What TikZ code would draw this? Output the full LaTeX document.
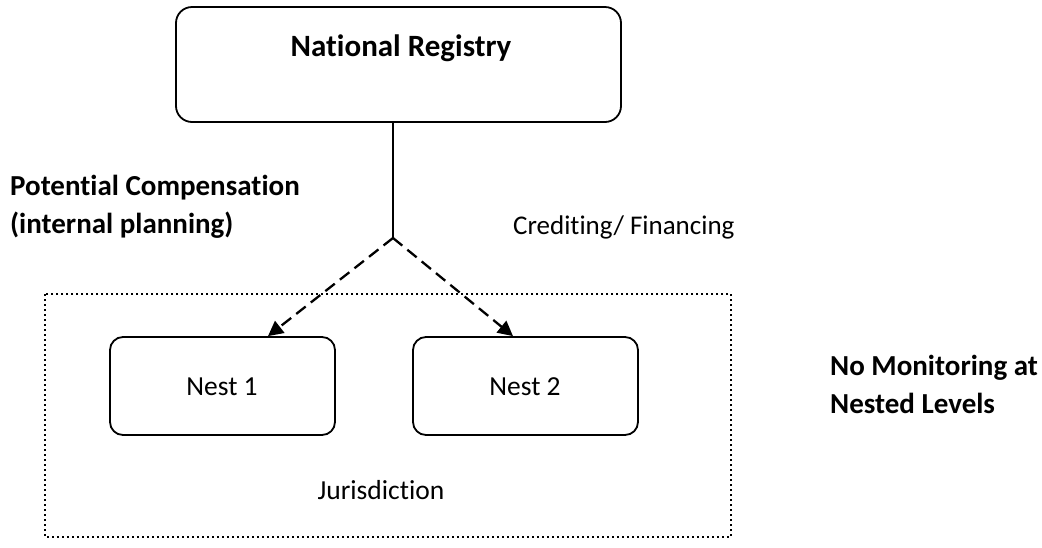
\documentclass[tikz,border=0pt]{standalone}
\usepackage{fontspec}
\setmainfont{Carlito}[Ligatures=NoCommon]
\usetikzlibrary{arrows.meta}

\tikzset{
  box/.style={draw, line width=1.8pt, rounded corners=16pt, inner sep=0pt},
  lbl/.style={inner sep=0pt, font=\fontsize{27.5}{34}\selectfont},
  blbl/.style={inner sep=0pt, align=left, font=\fontsize{29}{37.5}\selectfont\bfseries},
  link/.style={line width=1.8pt},
  flow/.style={line width=2.3pt, dash pattern=on 12pt off 6.5pt,
               -{Triangle[length=15pt, width=15pt]}},
  zone/.style={line width=2pt, dash pattern=on 2pt off 3pt}
}

\begin{document}
\begin{tikzpicture}[x=1pt, y=-1pt]
  \useasboundingbox (0,0) rectangle (1042,547);

  % jurisdiction boundary
  \draw[zone] (45,294) rectangle (731,537);

  % registry and nested units
  \node[box, minimum width=445pt, minimum height=115pt] (reg) at (398.5,64.5) {};
  \node[inner sep=0pt, font=\fontsize{31}{36}\selectfont\bfseries, anchor=base] (regtxt) at (401,56) {National Registry};

  \node[box, rounded corners=13pt, minimum width=225pt, minimum height=98pt] (n1) at (222.5,386) {};
  \node[lbl, anchor=base] (n1txt) at (222,395) {Nest 1};
  \node[box, rounded corners=13pt, minimum width=225pt, minimum height=98pt] (n2) at (525.5,386) {};
  \node[lbl, anchor=base] (n2txt) at (525,395) {Nest 2};

  \node[lbl, anchor=base] (jur) at (381,499) {Jurisdiction};

  % side labels (base anchor sits on the last line)
  \node[blbl, anchor=base west] (comp) at (10,233) {Potential Compensation\\(internal planning)};
  \node[lbl, font=\fontsize{27}{34}\selectfont, anchor=base west] (cred) at (513,234) {Crediting/ Financing};
  \node[blbl, anchor=base west] (mon) at (830,413) {No Monitoring at\\Nested Levels};

  % connectors
  \coordinate (apex) at (393,238);
  \coordinate (t1) at (268,337);
  \coordinate (t2) at (513,337);
  \draw[link] (apex |- reg.south) -- (apex);
  \draw[flow] (apex) -- (t1 |- n1.north);
  \draw[flow] (apex) -- (t2 |- n2.north);
\end{tikzpicture}
\end{document}
